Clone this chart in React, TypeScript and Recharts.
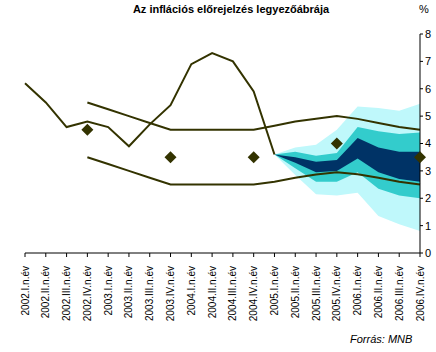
import React from "react"
import { Area, ComposedChart, Line, XAxis, YAxis } from "recharts"

const quarters = [
  "2002.I.n.év", "2002.II.n.év", "2002.III.n.év", "2002.IV.n.év",
  "2003.I.n.év", "2003.II.n.év", "2003.III.n.év", "2003.IV.n.év",
  "2004.I.n.év", "2004.II.n.év", "2004.III.n.év", "2004.IV.n.év",
  "2005.I.n.év", "2005.II.n.év", "2005.III.n.év", "2005.IV.n.év",
  "2006.I.n.év", "2006.II.n.év", "2006.III.n.év", "2006.IV.n.év",
]

const actual = [6.2, 5.5, 4.6, 4.8, 4.6, 3.9, 4.7, 5.4, 6.9, 7.3, 7.0, 5.9, 3.6, null, null, null, null, null, null, null]
const upperBand = [null, null, null, 5.5, 5.25, 5.0, 4.75, 4.5, 4.5, 4.5, 4.5, 4.5, 4.65, 4.8, 4.9, 5.0, 4.9, 4.75, 4.6, 4.5]
const lowerBand = [null, null, null, 3.5, 3.25, 3.0, 2.75, 2.5, 2.5, 2.5, 2.5, 2.5, 2.6, 2.75, 2.87, 2.95, 2.88, 2.75, 2.6, 2.5]
const targets = [null, null, null, 4.5, null, null, null, 3.5, null, null, null, 3.5, null, null, null, 4.0, null, null, null, 3.5]

// fan chart, from 2005.I on
const fanStart = 12
const lightLow = [3.6, 2.85, 2.15, 2.1, 2.2, 1.35, 1.05, 0.8]
const lightHigh = [3.6, 3.85, 3.95, 4.5, 5.35, 5.3, 5.2, 5.45]
const midLow = [3.6, 3.1, 2.6, 2.6, 2.95, 2.35, 2.1, 2.0]
const midHigh = [3.6, 3.7, 3.55, 3.65, 4.6, 4.45, 4.35, 4.4]
const darkLow = [3.6, 3.3, 2.95, 3.0, 3.45, 2.95, 2.7, 2.6]
const darkHigh = [3.6, 3.5, 3.33, 3.4, 4.2, 3.85, 3.7, 3.7]

const yTicks = [0, 1, 2, 3, 4, 5, 6, 7, 8]

const font = "Arial, 'Liberation Sans', sans-serif"
const lineColor = "#333300"

const data = quarters.map((q, i) => {
  const f = i - fanStart
  const inFan = f >= 0
  return {
    q,
    actual: actual[i],
    upper: upperBand[i],
    lower: lowerBand[i],
    target: targets[i],
    light: inFan ? [lightLow[f], lightHigh[f]] : null,
    mid: inFan ? [midLow[f], midHigh[f]] : null,
    dark: inFan ? [darkLow[f], darkHigh[f]] : null,
  }
})

const QuarterTick = (props: any) => {
  const { x, y, payload } = props
  const ty = y + 7
  return (
    <text
      x={x}
      y={ty}
      transform={`rotate(-90, ${x}, ${ty})`}
      textAnchor="end"
      dy="0.35em"
      fontSize={10}
      fontFamily={font}
      fill="#000"
    >
      {payload.value}
    </text>
  )
}

const Diamond = (props: any) => {
  const { cx, cy, value, index } = props
  if (value == null || cy == null) return <g key={index} />
  const r = 6
  return (
    <polygon
      key={index}
      points={`${cx},${cy - r} ${cx + r},${cy} ${cx},${cy + r} ${cx - r},${cy}`}
      fill={lineColor}
    />
  )
}

export default function App() {
  return (
    <div style={{ position: "absolute", left: 0, top: 0, width: 436, height: 352, background: "#fff", fontFamily: font }}>
      <div style={{ position: "absolute", left: 0, width: 462, top: 3, textAlign: "center", fontSize: 11, fontWeight: "bold" }}>
        Az inflációs előrejelzés legyezőábrája
      </div>
      <div style={{ position: "absolute", left: 419, top: 3, fontSize: 11 }}>%</div>
      <ComposedChart width={436} height={352} data={data} margin={{ top: 34, right: 0, bottom: 0, left: 25 }}>
        <Area dataKey="light" type="linear" stroke="none" fill="#bff8fb" fillOpacity={1} isAnimationActive={false} />
        <Area dataKey="mid" type="linear" stroke="none" fill="#33cccc" fillOpacity={1} isAnimationActive={false} />
        <Area dataKey="dark" type="linear" stroke="none" fill="#003366" fillOpacity={1} isAnimationActive={false} />
        <Line dataKey="actual" type="linear" stroke={lineColor} strokeWidth={2} dot={false} isAnimationActive={false} />
        <Line dataKey="upper" type="linear" stroke={lineColor} strokeWidth={2} dot={false} isAnimationActive={false} />
        <Line dataKey="lower" type="linear" stroke={lineColor} strokeWidth={2} dot={false} isAnimationActive={false} />
        <Line dataKey="target" stroke="none" dot={Diamond} activeDot={false} isAnimationActive={false} />
        <XAxis
          dataKey="q"
          scale="point"
          interval={0}
          height={99}
          tick={<QuarterTick />}
          tickSize={4}
          axisLine={{ stroke: "#000" }}
          tickLine={{ stroke: "#000" }}
        />
        <YAxis
          orientation="right"
          domain={[0, 8]}
          ticks={yTicks}
          width={16}
          tickSize={3}
          tickMargin={2}
          axisLine={{ stroke: "#000" }}
          tickLine={{ stroke: "#000" }}
          tick={{ fontSize: 11, fontFamily: font, fill: "#000" }}
        />
      </ComposedChart>
      <div style={{ position: "absolute", left: 350, top: 333, fontSize: 11, fontStyle: "italic" }}>Forrás: MNB</div>
    </div>
  )
}
